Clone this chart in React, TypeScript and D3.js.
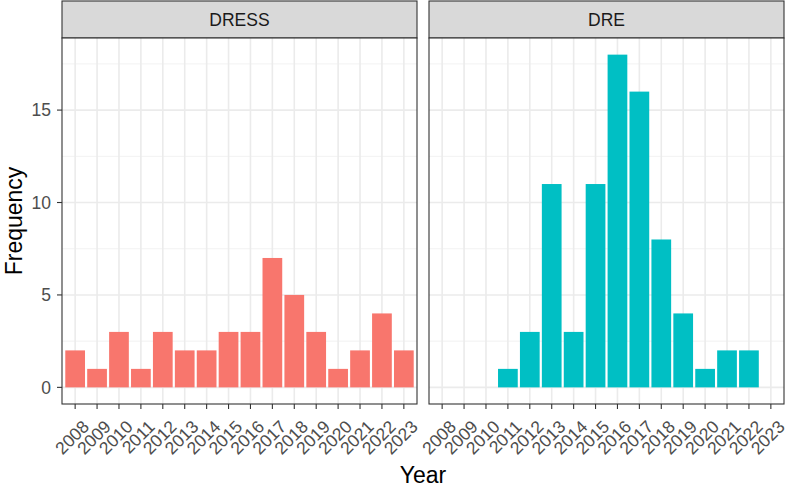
import React from 'react';
import * as d3 from 'd3';

const years = ['2008','2009','2010','2011','2012','2013','2014','2015','2016','2017','2018','2019','2020','2021','2022','2023'];
const panels = ['DRESS', 'DRE'];
const colors = ['#F8766D', '#00BFC4'];
const dressCounts = [2, 1, 3, 1, 3, 2, 2, 3, 3, 7, 5, 3, 1, 2, 4, 2];
const dreCounts = [0, 0, 0, 1, 3, 11, 3, 11, 18, 16, 8, 4, 1, 2, 2, 0];
const yTicks = [0, 5, 10, 15];
const yMinor = [2.5, 7.5, 12.5, 17.5];

const W = 787, H = 491;
const panelX = [[62, 417], [429, 784]];
const stripTop = 1, panelTop = 38, panelBottom = 404;
const font = '"Liberation Sans", Arial, sans-serif';

export default function App() {
  const y = d3.scaleLinear().domain([-0.9, 18.9]).range([panelBottom, panelTop]);
  const series = [dressCounts, dreCounts];

  return (
    <svg width={W} height={H} style={{ position: 'absolute', left: 0, top: 0 }} fontFamily={font}>
      <rect width={W} height={H} fill="white" />
      {panels.map((name, pi) => {
        const [x0, x1] = panelX[pi];
        // discrete scale: 16 levels with 0.6 expansion each side, bar width 0.9
        const x = d3.scalePoint().domain(years).range([x0, x1]).padding(0.6);
        const bw = x.step() * 0.9;
        return (
          <g key={name}>
            <rect x={x0} y={stripTop} width={x1 - x0} height={panelTop - stripTop} fill="#D9D9D9" stroke="#333333" strokeWidth={1.1} />
            <text x={(x0 + x1) / 2} y={(stripTop + panelTop) / 2} dy="0.36em" textAnchor="middle" fontSize={17.5} fill="#1A1A1A">{name}</text>
            <rect x={x0} y={panelTop} width={x1 - x0} height={panelBottom - panelTop} fill="white" />
            {yMinor.map(t => (
              <line key={'m' + t} x1={x0} x2={x1} y1={y(t)} y2={y(t)} stroke="#F2F2F2" strokeWidth={1} />
            ))}
            {yTicks.map(t => (
              <line key={'y' + t} x1={x0} x2={x1} y1={y(t)} y2={y(t)} stroke="#EBEBEB" strokeWidth={1.6} />
            ))}
            {years.map(yr => (
              <line key={'x' + yr} x1={x(yr)} x2={x(yr)} y1={panelTop} y2={panelBottom} stroke="#EBEBEB" strokeWidth={1.6} />
            ))}
            {series[pi].map((v, i) => v > 0 ? (
              <rect key={'b' + i} x={(x(years[i]) as number) - bw / 2} y={y(v)} width={bw} height={y(0) - y(v)} fill={colors[pi]} />
            ) : null)}
            <rect x={x0} y={panelTop} width={x1 - x0} height={panelBottom - panelTop} fill="none" stroke="#333333" strokeWidth={1.1} />
            {years.map(yr => (
              <g key={'t' + yr}>
                <line x1={x(yr)} x2={x(yr)} y1={panelBottom} y2={panelBottom + 5} stroke="#333333" strokeWidth={1.1} />
                <text transform={`translate(${(x(yr) as number) + 6},${panelBottom + 15}) rotate(-45)`} textAnchor="end" dy="0.72em" fontSize={17.5} fill="#4D4D4D">{yr}</text>
              </g>
            ))}
            {pi === 0 && yTicks.map(t => (
              <g key={'yt' + t}>
                <line x1={x0 - 5} x2={x0} y1={y(t)} y2={y(t)} stroke="#333333" strokeWidth={1.1} />
                <text x={x0 - 11} y={y(t)} dy="0.36em" textAnchor="end" fontSize={17.5} fill="#4D4D4D">{t}</text>
              </g>
            ))}
          </g>
        );
      })}
      <text x={(panelX[0][0] + panelX[1][1]) / 2} y={483} textAnchor="middle" fontSize={23} fill="black">Year</text>
      <text transform={`translate(22,${(panelTop + panelBottom) / 2}) rotate(-90)`} textAnchor="middle" fontSize={23} fill="black">Frequency</text>
    </svg>
  );
}
